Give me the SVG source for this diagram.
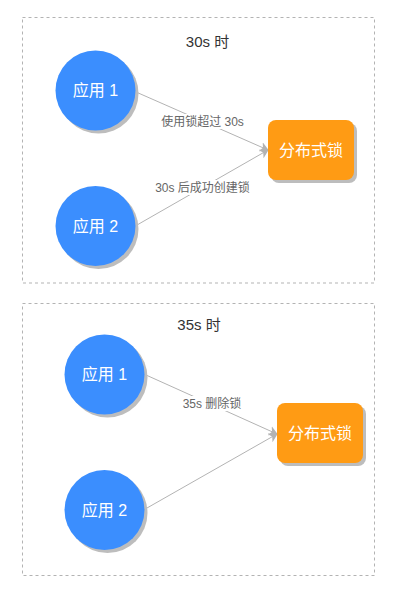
<svg xmlns="http://www.w3.org/2000/svg" width="400" height="597" viewBox="0 0 400 597">
<style>
.panel{fill:#fff;stroke:#b3b3b3;stroke-width:1;stroke-dasharray:3 3}
.app{fill:#3b8efe}
.lock{fill:#ff9b14}
.sh{fill:#bdbdbd}
.nt{font-family:"Liberation Sans","Noto Sans CJK SC",sans-serif;font-size:16px;fill:#fff;text-anchor:middle;dominant-baseline:central}
.title{font-family:"Liberation Sans","Noto Sans CJK SC",sans-serif;font-size:15px;fill:#333;text-anchor:middle;dominant-baseline:central}
.el{font-family:"Liberation Sans","Noto Sans CJK SC",sans-serif;font-size:12px;fill:#666;text-anchor:middle;dominant-baseline:central}
.edge{stroke:#b3b3b3;stroke-width:1;fill:none;marker-end:url(#arr)}
.lbg{fill:#fff}
</style>
<defs>
<marker id="arr" markerWidth="10" markerHeight="10" refX="8" refY="5" orient="auto" markerUnits="userSpaceOnUse">
<path d="M0,0 L9,5 L0,10 L2.5,5 Z" fill="#b3b3b3"/>
</marker>
</defs>
<rect width="400" height="597" fill="#fff"/>
<rect class="panel" x="22.5" y="17.5" width="352" height="265.5"/>
<rect class="panel" x="22.5" y="303.5" width="352" height="272"/>
<text class="title" x="207.5" y="41">30s 时</text>
<text class="title" x="199" y="324">35s 时</text>
<g id="connectors">
<path class="edge" d="M136,92 L268,150"/>
<path class="edge" d="M137,225 L268,150"/>
<rect class="lbg" x="160" y="114" width="85" height="15"/>
<text class="el" x="202.5" y="121.5">使用锁超过 30s</text>
<rect class="lbg" x="154" y="180" width="97" height="15"/>
<text class="el" x="202.5" y="187.5">30s 后成功创建锁</text>
<path class="edge" d="M146,375 L277,434"/>
<path class="edge" d="M147,508 L277,434"/>
<rect class="lbg" x="180" y="396" width="64" height="15"/>
<text class="el" x="212" y="403.5">35s 删除锁</text>
</g>
<g id="app1-a">
<circle class="sh" cx="98.5" cy="93.5" r="40"/>
<circle class="app" cx="95.5" cy="90.5" r="40"/>
<text class="nt" x="95.5" y="90.5">应用 1</text>
</g>
<g id="app2-a">
<circle class="sh" cx="98.5" cy="229" r="40"/>
<circle class="app" cx="95.5" cy="226" r="40"/>
<text class="nt" x="95.5" y="226">应用 2</text>
</g>
<g id="lock-a">
<rect class="sh" x="271" y="123" width="86" height="60" rx="8"/>
<rect class="lock" x="268" y="120" width="86" height="60" rx="8"/>
<text class="nt" x="311" y="150">分布式锁</text>
</g>
<g id="app1-b">
<circle class="sh" cx="107.5" cy="377.5" r="40"/>
<circle class="app" cx="104.5" cy="374.5" r="40"/>
<text class="nt" x="104.5" y="374.5">应用 1</text>
</g>
<g id="app2-b">
<circle class="sh" cx="107.5" cy="513" r="40"/>
<circle class="app" cx="104.5" cy="510" r="40"/>
<text class="nt" x="104.5" y="510">应用 2</text>
</g>
<g id="lock-b">
<rect class="sh" x="280" y="406" width="86" height="60" rx="8"/>
<rect class="lock" x="277" y="403" width="86" height="60" rx="8"/>
<text class="nt" x="320" y="433">分布式锁</text>
</g>
</svg>
